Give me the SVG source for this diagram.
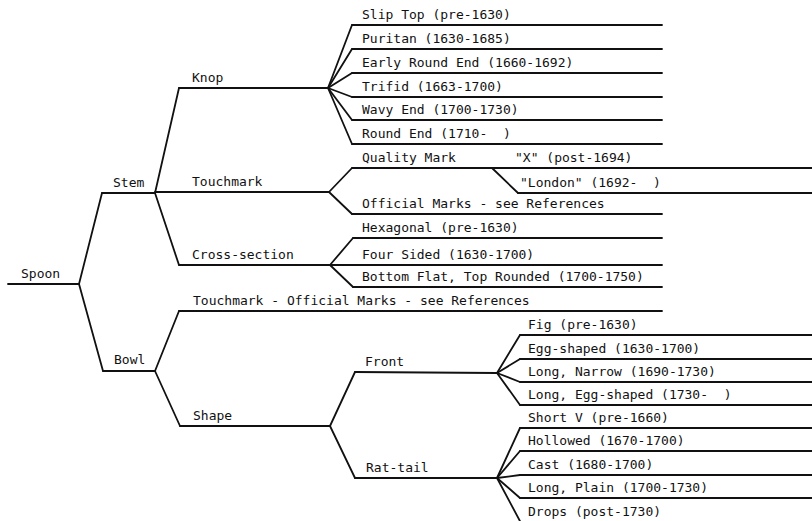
<svg xmlns="http://www.w3.org/2000/svg" width="812" height="521" viewBox="0 0 812 521">
<style>
text{font-family:"DejaVu Sans Mono","Liberation Mono",monospace;font-size:13px;fill:#111;white-space:pre}
line,polyline{stroke:#111;stroke-width:1.8;fill:none;stroke-linecap:round;stroke-linejoin:round}
</style>
<rect width="812" height="521" fill="#fff"/>
<g id="connectors">
<line x1="79" y1="284" x2="102" y2="193"/>
<line x1="79" y1="284" x2="103" y2="371"/>
<line x1="155" y1="193" x2="179" y2="88"/>
<line x1="155" y1="193" x2="179" y2="265"/>
<line x1="155" y1="371" x2="179" y2="311"/>
<line x1="155" y1="371" x2="180" y2="426"/>
<line x1="328" y1="88" x2="352" y2="25"/>
<line x1="328" y1="88" x2="352" y2="49"/>
<line x1="328" y1="88" x2="352" y2="73"/>
<line x1="328" y1="88" x2="352" y2="97"/>
<line x1="328" y1="88" x2="352" y2="120"/>
<line x1="328" y1="88" x2="352" y2="144"/>
<line x1="329" y1="192" x2="352" y2="168"/>
<line x1="329" y1="192" x2="352" y2="214"/>
<line x1="492" y1="168" x2="518" y2="193"/>
<line x1="330" y1="265" x2="353" y2="238"/>
<line x1="330" y1="265" x2="353" y2="265"/>
<line x1="330" y1="265" x2="353" y2="287"/>
<line x1="330" y1="426" x2="355" y2="372"/>
<line x1="330" y1="426" x2="355" y2="478"/>
<line x1="497" y1="373" x2="520" y2="335"/>
<line x1="497" y1="373" x2="520" y2="359"/>
<line x1="497" y1="373" x2="520" y2="382"/>
<line x1="497" y1="373" x2="520" y2="405"/>
<line x1="497" y1="478" x2="520" y2="428"/>
<line x1="497" y1="478" x2="520" y2="451"/>
<line x1="497" y1="478" x2="520" y2="475"/>
<line x1="497" y1="478" x2="520" y2="498"/>
<line x1="497" y1="478" x2="521" y2="523"/>
</g>
<g id="spoon"><line x1="8" y1="284" x2="79" y2="284"/><text x="21" y="278">Spoon</text></g>
<g id="stem"><line x1="102" y1="193" x2="155" y2="193"/><text x="113" y="187">Stem</text></g>
<g id="bowl"><line x1="103" y1="371" x2="155" y2="371"/><text x="114" y="364">Bowl</text></g>
<g id="knop"><line x1="179" y1="88" x2="328" y2="88"/><text x="192" y="82">Knop</text></g>
<g id="stem-touchmark"><line x1="155" y1="192" x2="329" y2="192"/><text x="192" y="186">Touchmark</text></g>
<g id="cross-section"><line x1="179" y1="265" x2="330" y2="265"/><text x="192" y="259">Cross-section</text></g>
<g id="bowl-touchmark"><line x1="179" y1="311" x2="662" y2="311"/><text x="193" y="305">Touchmark - Official Marks - see References</text></g>
<g id="shape"><line x1="180" y1="426" x2="330" y2="426"/><text x="193" y="420">Shape</text></g>
<g id="slip-top"><line x1="352" y1="25" x2="662" y2="25"/><text x="362" y="18.5">Slip Top (pre-1630)</text></g>
<g id="puritan"><line x1="352" y1="49" x2="662" y2="49"/><text x="362" y="42.5">Puritan (1630-1685)</text></g>
<g id="early-round-end"><line x1="352" y1="73" x2="662" y2="73"/><text x="362" y="66.5">Early Round End (1660-1692)</text></g>
<g id="trifid"><line x1="352" y1="97" x2="662" y2="97"/><text x="362" y="90.5">Trifid (1663-1700)</text></g>
<g id="wavy-end"><line x1="352" y1="120" x2="662" y2="120"/><text x="362" y="113.5">Wavy End (1700-1730)</text></g>
<g id="round-end"><line x1="352" y1="144" x2="662" y2="144"/><text x="362" y="137.5">Round End (1710-  )</text></g>
<g id="quality-mark"><line x1="352" y1="168" x2="812" y2="168"/><text x="362" y="161.5">Quality Mark</text></g>
<g id="mark-x"><text x="515" y="161.5">"X" (post-1694)</text></g>
<g id="mark-london"><line x1="518" y1="193" x2="812" y2="193"/><text x="520" y="186.5">"London" (1692-  )</text></g>
<g id="official-marks"><line x1="352" y1="214" x2="662" y2="214"/><text x="362" y="207.5">Official Marks - see References</text></g>
<g id="hexagonal"><line x1="353" y1="238" x2="662" y2="238"/><text x="362" y="231.5">Hexagonal (pre-1630)</text></g>
<g id="four-sided"><line x1="353" y1="265" x2="662" y2="265"/><text x="362" y="258.5">Four Sided (1630-1700)</text></g>
<g id="bottom-flat"><line x1="353" y1="287" x2="662" y2="287"/><text x="362" y="280.5">Bottom Flat, Top Rounded (1700-1750)</text></g>
<g id="front"><line x1="355" y1="372" x2="497" y2="373"/><text x="365" y="366">Front</text></g>
<g id="rat-tail"><line x1="355" y1="478" x2="497" y2="478"/><text x="366" y="472">Rat-tail</text></g>
<g id="fig"><line x1="520" y1="335" x2="812" y2="335"/><text x="528" y="328.5">Fig (pre-1630)</text></g>
<g id="egg-shaped"><line x1="520" y1="359" x2="812" y2="359"/><text x="528" y="352.5">Egg-shaped (1630-1700)</text></g>
<g id="long-narrow"><line x1="520" y1="382" x2="812" y2="382"/><text x="528" y="375.5">Long, Narrow (1690-1730)</text></g>
<g id="long-egg-shaped"><line x1="520" y1="405" x2="812" y2="405"/><text x="528" y="398.5">Long, Egg-shaped (1730-  )</text></g>
<g id="short-v"><line x1="520" y1="428" x2="812" y2="428"/><text x="528" y="421.5">Short V (pre-1660)</text></g>
<g id="hollowed"><line x1="520" y1="451" x2="812" y2="451"/><text x="528" y="444.5">Hollowed (1670-1700)</text></g>
<g id="cast"><line x1="520" y1="475" x2="812" y2="475"/><text x="528" y="468.5">Cast (1680-1700)</text></g>
<g id="long-plain"><line x1="520" y1="498" x2="812" y2="498"/><text x="528" y="491.5">Long, Plain (1700-1730)</text></g>
<g id="drops"><text x="528" y="516">Drops (post-1730)</text></g>
</svg>
